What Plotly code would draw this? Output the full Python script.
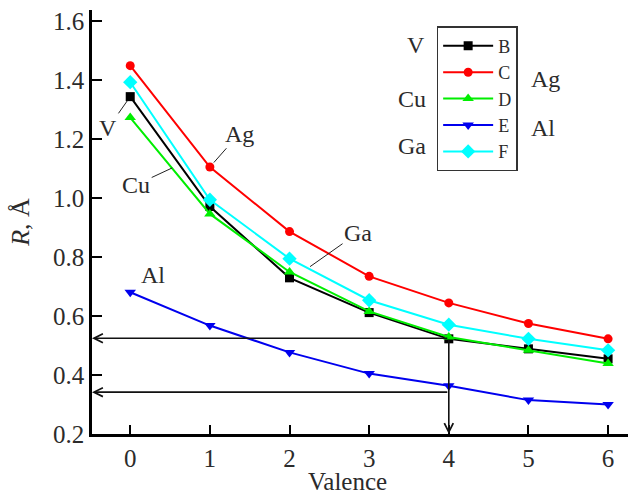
import plotly.graph_objects as go

valence = [0, 1, 2, 3, 4, 5, 6]
B_V = [1.345, 0.972, 0.730, 0.612, 0.523, 0.489, 0.455]
C_Ag = [1.450, 1.106, 0.887, 0.735, 0.645, 0.575, 0.523]
D_Cu = [1.274, 0.947, 0.750, 0.616, 0.529, 0.484, 0.439]
E_Al = [0.681, 0.568, 0.477, 0.405, 0.364, 0.315, 0.300]
F_Ga = [1.394, 0.995, 0.795, 0.654, 0.571, 0.523, 0.484]
arrow_levels = [0.525, 0.342]
arrow_valence = 4
y_ticks = [0.2, 0.4, 0.6, 0.8, 1.0, 1.2, 1.4, 1.6]

FONT = "Liberation Serif"
TXT = "#2b2b2b"
styles = [
    ("B", B_V, "#000000", "square", 9),
    ("C", C_Ag, "#ff0000", "circle", 9),
    ("D", D_Cu, "#00ee00", "triangle-up", 10),
    ("E", E_Al, "#0000ee", "triangle-down", 10),
    ("F", F_Ga, "#00ffff", "diamond", 11),
]

fig = go.Figure()
for name, vals, col, sym, sz in styles:
    fig.add_trace(go.Scatter(
        x=valence, y=vals, name=name, mode="lines+markers",
        line=dict(color=col, width=2),
        marker=dict(symbol=sym, size=sz, color=col),
    ))

XMIN, XMAX = -0.48, 6.25
YMIN, YMAX = 0.2, 1.639

ann = []
def leader(text, tx, ty, px, py, standoff=0):
    ann.append(dict(x=px, y=py, ax=tx, ay=ty, axref="x", ayref="y", xref="x", yref="y",
                    text=text, showarrow=True, arrowhead=0, arrowwidth=1, arrowcolor="#222",
                    standoff=standoff, font=dict(family=FONT, size=24, color=TXT)))

leader("V", -0.276, 1.239, 0, B_V[0], 5)
leader("Cu", 0.075, 1.046, 0.527, 1.103, 0)
leader("Ag", 1.368, 1.219, 1, C_Ag[1], 6)
leader("Ga", 2.861, 0.883, 2.258, 0.768, 0)
ann.append(dict(x=0.289, y=0.741, xref="x", yref="y", text="Al", showarrow=False,
                font=dict(family=FONT, size=24, color=TXT)))

for yv in arrow_levels:
    ann.append(dict(x=XMIN, y=yv, ax=arrow_valence, ay=yv, axref="x", ayref="y",
                    xref="x", yref="y", text="", showarrow=True, arrowhead=5,
                    arrowsize=1.1, arrowwidth=1.6, arrowcolor="#111"))
ann.append(dict(x=arrow_valence, y=YMIN, ax=arrow_valence, ay=arrow_levels[0],
                axref="x", ayref="y", xref="x", yref="y", text="", showarrow=True,
                arrowhead=5, arrowsize=1.1, arrowwidth=1.6, arrowcolor="#111"))

for t, xp, yp in [("V", 0.605, 0.918), ("Cu", 0.597, 0.790), ("Ga", 0.597, 0.680),
                  ("Ag", 0.847, 0.838), ("Al", 0.841, 0.722)]:
    ann.append(dict(x=xp, y=yp, xref="paper", yref="paper", text=t, showarrow=False,
                    xanchor="center", yanchor="middle",
                    font=dict(family=FONT, size=24, color=TXT)))

# x-axis title placed as paper text, bottom edge at the figure's bottom
ann.append(dict(x=0.476, y=-0.1472, xref="paper", yref="paper", text="Valence",
                showarrow=False, xanchor="center", yanchor="bottom", borderpad=0,
                font=dict(family=FONT, size=25, color=TXT)))

fig.update_layout(
    width=628, height=497,
    margin=dict(l=91.7, r=0, t=10, b=62.5, pad=0),
    paper_bgcolor="white", plot_bgcolor="white",
    font=dict(family=FONT, size=25, color=TXT),
    showlegend=True,
    legend=dict(x=0.643, y=0.962, xanchor="left", yanchor="top",
                bordercolor="#333", borderwidth=1.5, bgcolor="white",
                itemwidth=50,
                font=dict(family=FONT, size=18, color=TXT)),
    annotations=ann,
    xaxis=dict(range=[XMIN, XMAX], tickvals=valence, ticks="inside", ticklen=9,
               tickcolor="black", tickwidth=1.5, showline=True, linecolor="black",
               linewidth=2.7, showgrid=False, zeroline=False,
               tickfont=dict(size=25)),
    yaxis=dict(range=[YMIN, YMAX], tickvals=y_ticks, tickformat=".1f", ticks="inside",
               ticklen=10, tickcolor="black", tickwidth=1.5, showline=True,
               linecolor="black", linewidth=2.7, showgrid=False, zeroline=False,
               tickfont=dict(size=25),
               title=dict(text="<i>R</i>, Å", standoff=16, font=dict(size=26))),
)
fig.write_html("out.html", config={"displayModeBar": False},
               post_script="document.body.style.margin='0';document.documentElement.style.overflow='hidden';")
